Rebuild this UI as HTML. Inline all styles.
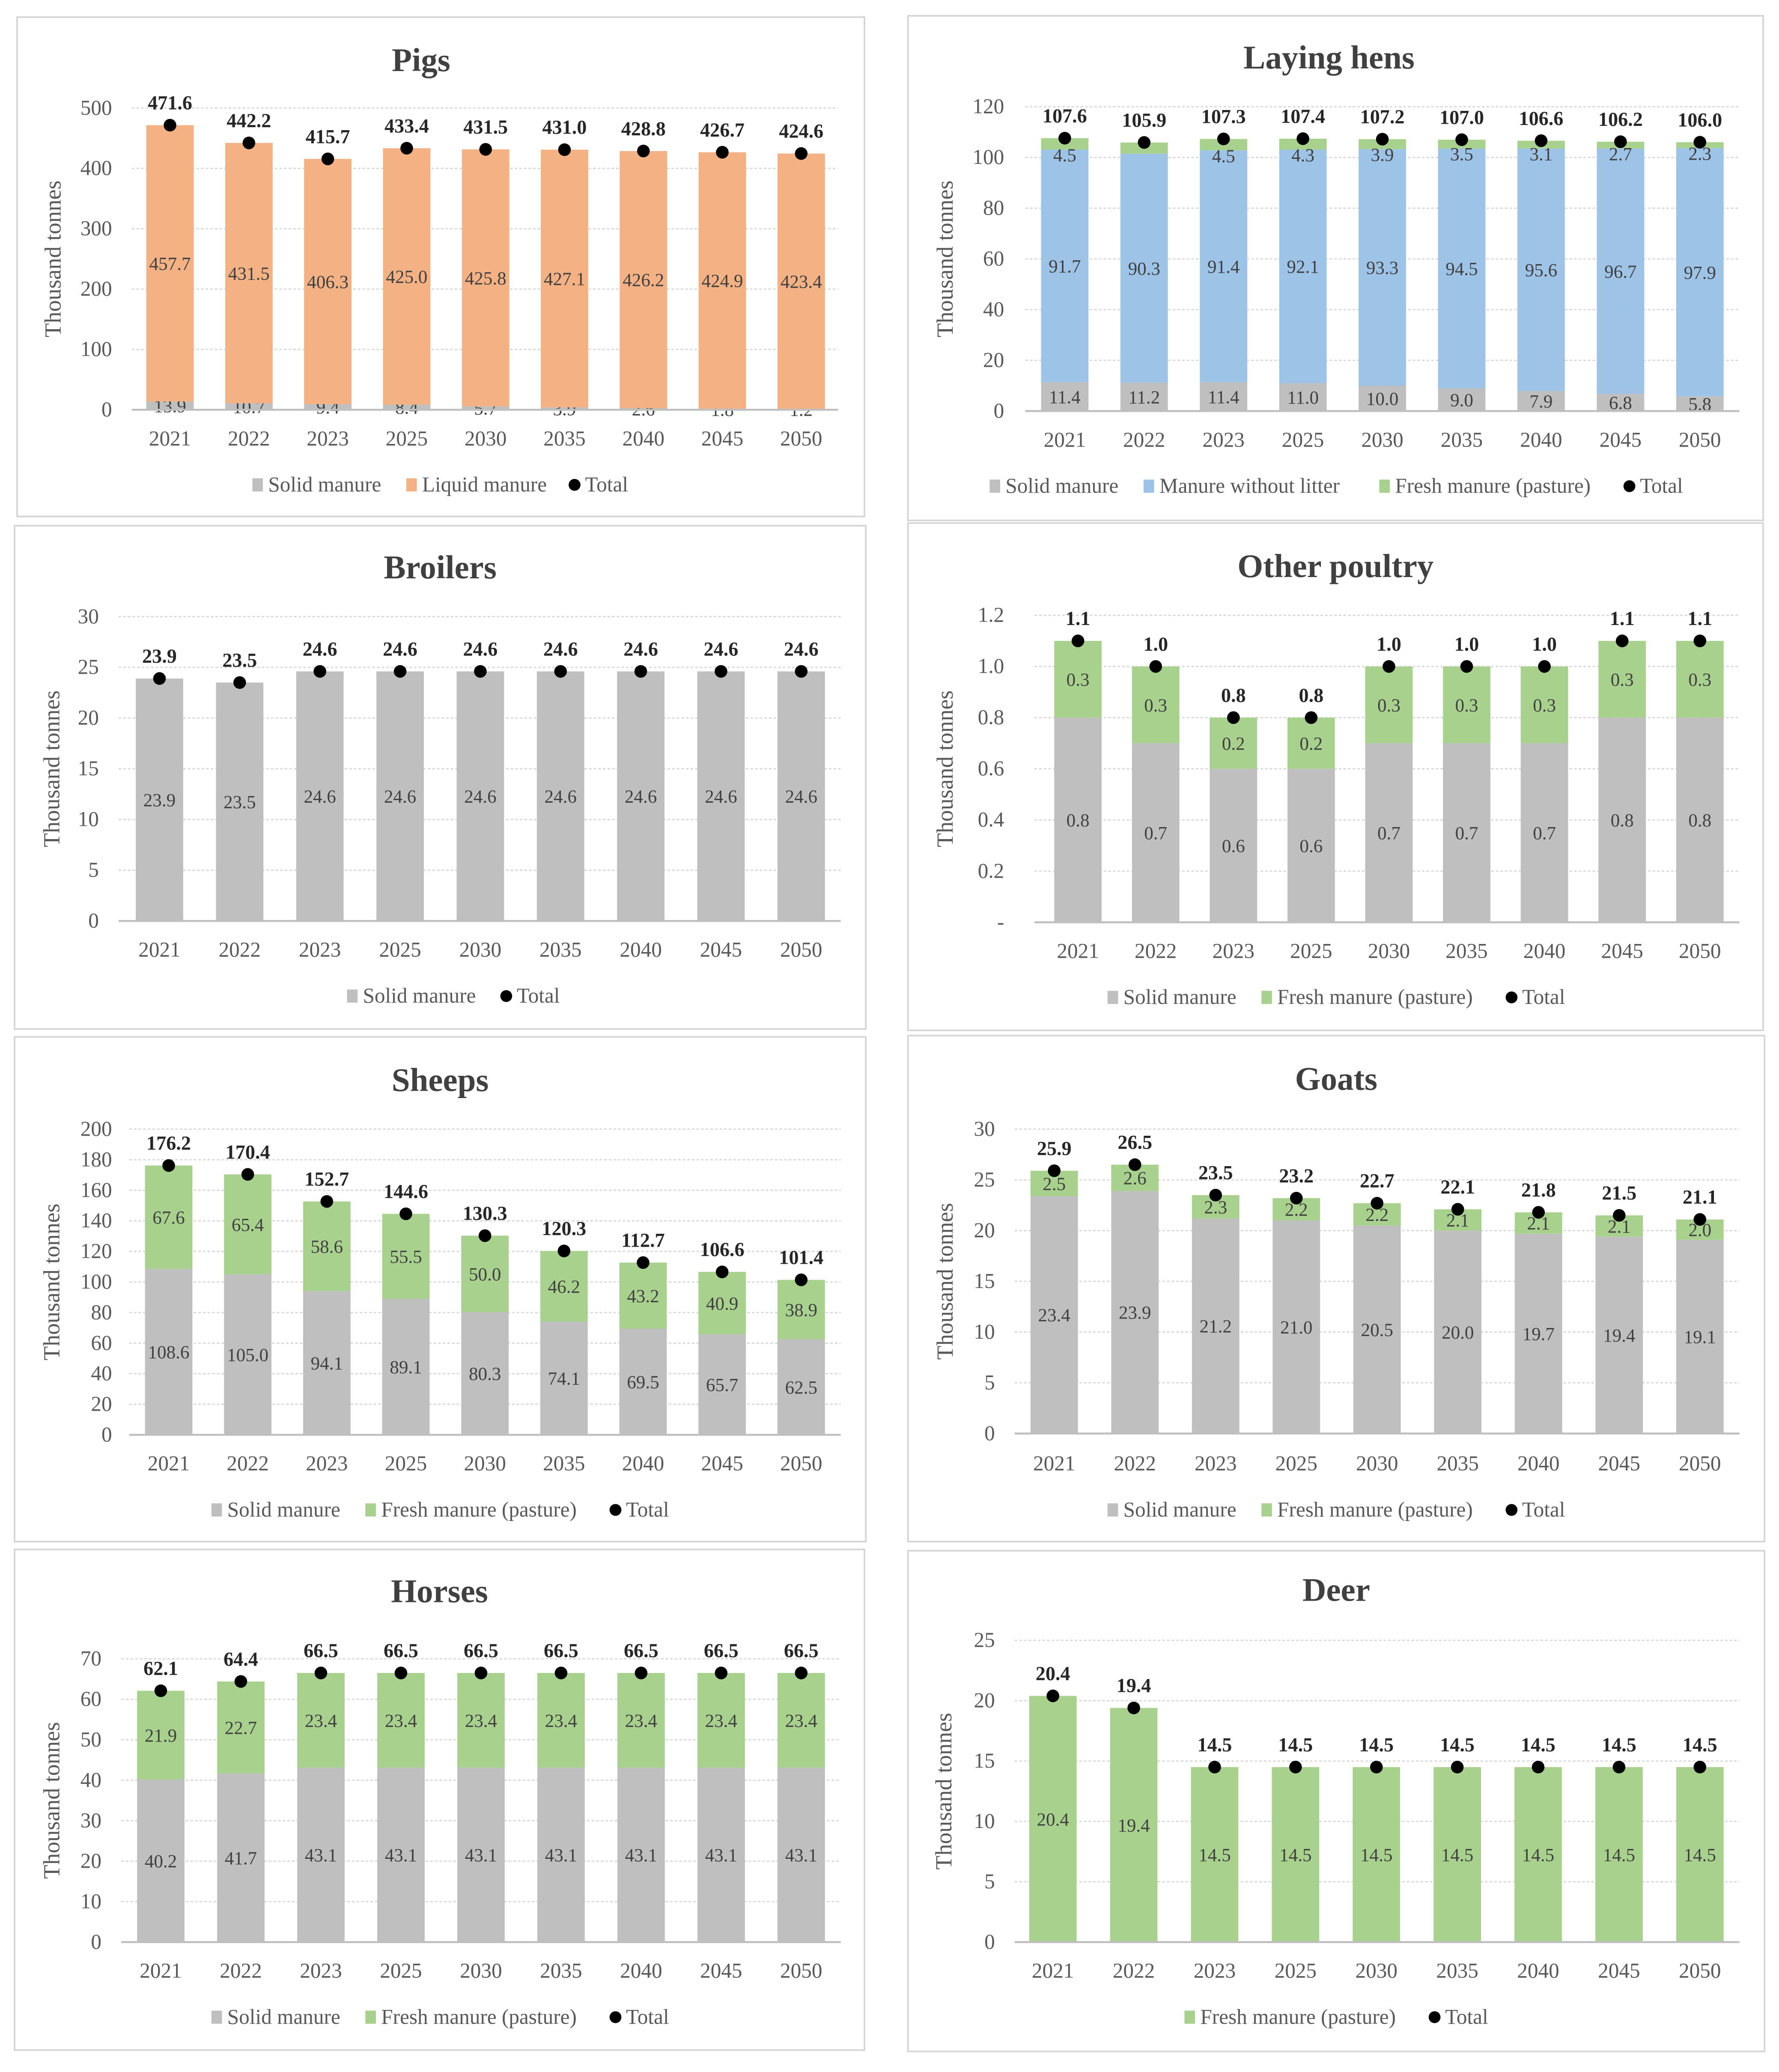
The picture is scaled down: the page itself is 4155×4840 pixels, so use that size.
<!DOCTYPE html>
<html><head><meta charset="utf-8"><style>
html,body{margin:0;padding:0;background:#fff;}
svg{display:block;}
text{font-family:"Liberation Serif",serif;}
</style></head><body>
<svg id="fig" width="4155" height="4840" viewBox="0 0 1350 1572.6" xmlns="http://www.w3.org/2000/svg"></svg>
<script>
const years=["2021","2022","2023","2025","2030","2035","2040","2045","2050"];
const pigsSolid=[13.9,10.7,9.4,8.4,5.7,3.9,2.6,1.8,1.2];
const pigsLiquid=[457.7,431.5,406.3,425.0,425.8,427.1,426.2,424.9,423.4];
const pigsTotal=[471.6,442.2,415.7,433.4,431.5,431.0,428.8,426.7,424.6];
const hensSolid=[11.4,11.2,11.4,11.0,10.0,9.0,7.9,6.8,5.8];
const hensNoLitter=[91.7,90.3,91.4,92.1,93.3,94.5,95.6,96.7,97.9];
const hensFresh=[4.5,4.4,4.5,4.3,3.9,3.5,3.1,2.7,2.3];
const hensTotal=[107.6,105.9,107.3,107.4,107.2,107.0,106.6,106.2,106.0];
const broilersSolid=[23.9,23.5,24.6,24.6,24.6,24.6,24.6,24.6,24.6];
const broilersTotal=[23.9,23.5,24.6,24.6,24.6,24.6,24.6,24.6,24.6];
const otherSolid=[0.8,0.7,0.6,0.6,0.7,0.7,0.7,0.8,0.8];
const otherFresh=[0.3,0.3,0.2,0.2,0.3,0.3,0.3,0.3,0.3];
const otherTotal=[1.1,1.0,0.8,0.8,1.0,1.0,1.0,1.1,1.1];
const sheepSolid=[108.6,105.0,94.1,89.1,80.3,74.1,69.5,65.7,62.5];
const sheepFresh=[67.6,65.4,58.6,55.5,50.0,46.2,43.2,40.9,38.9];
const sheepTotal=[176.2,170.4,152.7,144.6,130.3,120.3,112.7,106.6,101.4];
const goatsSolid=[23.4,23.9,21.2,21.0,20.5,20.0,19.7,19.4,19.1];
const goatsFresh=[2.5,2.6,2.3,2.2,2.2,2.1,2.1,2.1,2.0];
const goatsTotal=[25.9,26.5,23.5,23.2,22.7,22.1,21.8,21.5,21.1];
const horsesSolid=[40.2,41.7,43.1,43.1,43.1,43.1,43.1,43.1,43.1];
const horsesFresh=[21.9,22.7,23.4,23.4,23.4,23.4,23.4,23.4,23.4];
const horsesTotal=[62.1,64.4,66.5,66.5,66.5,66.5,66.5,66.5,66.5];
const deerFresh=[20.4,19.4,14.5,14.5,14.5,14.5,14.5,14.5,14.5];
const deerTotal=[20.4,19.4,14.5,14.5,14.5,14.5,14.5,14.5,14.5];
const pigsTicks=["0","100","200","300","400","500"];
const hensTicks=["0","20","40","60","80","100","120"];
const broilersTicks=["0","5","10","15","20","25","30"];
const otherTicks=["-","0.2","0.4","0.6","0.8","1.0","1.2"];
const sheepTicks=["0","20","40","60","80","100","120","140","160","180","200"];
const goatsTicks=["0","5","10","15","20","25","30"];
const horsesTicks=["0","10","20","30","40","50","60","70"];
const deerTicks=["0","5","10","15","20","25"];

const C={solid:"#bfbfbf",liquid:"#f4b183",blue:"#9dc3e6",green:"#a9d18e"};
const svg=document.getElementById('fig');
const NS="http://www.w3.org/2000/svg";
function el(tag,attrs,parent){const e=document.createElementNS(NS,tag);for(const k in attrs)e.setAttribute(k,attrs[k]);(parent||svg).appendChild(e);return e;}
function txt(s,attrs,parent){const e=el('text',attrs,parent);e.textContent=s;return e;}

const panels=[
 {id:"pigs",title:"Pigs",box:[13,13,643,379],titleY:54,y0:311,yTop:82,ymax:500,ticks:pigsTicks,tickX:85,ytX:46,gx0:100,gx1:636,c0:129,c1:608,catY:338,legY:373,legCx:335,
  series:[{name:"Solid manure",vals:pigsSolid,color:C.solid},{name:"Liquid manure",vals:pigsLiquid,color:C.liquid}],total:pigsTotal},
 {id:"laying-hens",title:"Laying hens",box:[689,12,649,383],titleY:52,y0:312,yTop:81,ymax:120,ticks:hensTicks,tickX:762,ytX:723,gx0:778,gx1:1320,c0:808,c1:1290,catY:339,legY:374,legCx:1015,
  series:[{name:"Solid manure",vals:hensSolid,color:C.solid},{name:"Manure without litter",vals:hensNoLitter,color:C.blue},{name:"Fresh manure (pasture)",vals:hensFresh,color:C.green,skip:[1]}],total:hensTotal},
 {id:"broilers",title:"Broilers",box:[11,399,646,382],titleY:439,y0:699,yTop:468,ymax:30,ticks:broilersTicks,tickX:75,ytX:45,gx0:90,gx1:638,c0:121,c1:608,catY:726,legY:761,legCx:345,
  series:[{name:"Solid manure",vals:broilersSolid,color:C.solid}],total:broilersTotal},
 {id:"other-poultry",title:"Other poultry",box:[689,397,649,385],titleY:438,y0:700,yTop:467,ymax:1.2,ticks:otherTicks,tickX:762,ytX:723,gx0:785,gx1:1320,c0:818,c1:1290,catY:727,legY:762,legCx:1015,
  series:[{name:"Solid manure",vals:otherSolid,color:C.solid},{name:"Fresh manure (pasture)",vals:otherFresh,color:C.green}],total:otherTotal},
 {id:"sheeps",title:"Sheeps",box:[11,787,646,383],titleY:828,y0:1089,yTop:857,ymax:200,ticks:sheepTicks,tickX:85,ytX:45,gx0:98,gx1:638,c0:128,c1:608,catY:1116,legY:1151,legCx:335,
  series:[{name:"Solid manure",vals:sheepSolid,color:C.solid},{name:"Fresh manure (pasture)",vals:sheepFresh,color:C.green}],total:sheepTotal},
 {id:"goats",title:"Goats",box:[689,786,650,384],titleY:827,y0:1088,yTop:857,ymax:30,ticks:goatsTicks,tickX:755,ytX:723,gx0:770,gx1:1320,c0:800,c1:1290,catY:1116,legY:1151,legCx:1015,
  series:[{name:"Solid manure",vals:goatsSolid,color:C.solid},{name:"Fresh manure (pasture)",vals:goatsFresh,color:C.green}],total:goatsTotal},
 {id:"horses",title:"Horses",box:[11,1176,645,380],titleY:1216,y0:1474,yTop:1259,ymax:70,ticks:horsesTicks,tickX:77,ytX:45,gx0:92,gx1:638,c0:122,c1:608,catY:1501,legY:1536,legCx:335,
  series:[{name:"Solid manure",vals:horsesSolid,color:C.solid},{name:"Fresh manure (pasture)",vals:horsesFresh,color:C.green}],total:horsesTotal},
 {id:"deer",title:"Deer",box:[689,1177,650,380],titleY:1215,y0:1474,yTop:1245,ymax:25,ticks:deerTicks,tickX:755,ytX:722,gx0:770,gx1:1320,c0:799,c1:1290,catY:1501,legY:1536,legCx:1015,
  series:[{name:"Fresh manure (pasture)",vals:deerFresh,color:C.green}],total:deerTotal}
];

panels.forEach(p=>{
  const g=el('g',{});
  
  
  const b=el('rect',{x:p.box[0],y:p.box[1],width:p.box[2],height:p.box[3],fill:'#fff',stroke:'#d4d4d4','stroke-width':1.2},g);
  
  
  const t=txt(p.title,{x:p.box[0]+p.box[2]/2+(p.id==='pigs'?-15:(p.id==='laying-hens'?-5:0)),y:p.titleY,'text-anchor':'middle','font-size':25,'font-weight':'bold',fill:'#404040'},g);
  
  
  const yS=v=>p.y0-(v/p.ymax)*(p.y0-p.yTop);
  const n=p.ticks.length;
  for(let i=0;i<n;i++){
    const v=p.ymax*i/(n-1);const y=yS(v);
    if(i>0){const gl=el('line',{x1:p.gx0,x2:p.gx1,y1:y,y2:y,stroke:'#d9d9d9','stroke-width':1,'stroke-dasharray':'2,1.5'},g);
      
      }
    const tl=txt(p.ticks[i],{x:p.tickX,y:y+5,'text-anchor':'end','font-size':16,fill:'#595959'},g);
    
    
  }
  const yt=txt("Thousand tonnes",{x:p.ytX,y:(p.y0+p.yTop)/2,'text-anchor':'middle','font-size':17.5,fill:'#595959',transform:`rotate(-90 ${p.ytX} ${(p.y0+p.yTop)/2})`},g);
  
  
  const step=(p.c1-p.c0)/(years.length-1);
  const xS=i=>p.c0+i*step;
  const bw=36;
  years.forEach((yr,i)=>{
    let acc=0;
    p.series.forEach((s,si)=>{
      const v=s.vals[i];
      const yTopSeg=yS(acc+v),yBot=yS(acc);
      const r=el('rect',{x:xS(i)-bw/2,y:yTopSeg,width:bw,height:Math.max(0,yBot-yTopSeg),fill:s.color},g);
      
      
      if(!(s.skip&&s.skip.includes(i))){
        let ly=(yTopSeg+yBot)/2+5;
        if(si>0&&yBot-yTopSeg<10) ly=yBot+9;
        const lt=txt(v.toFixed(1),{x:xS(i),y:ly,'text-anchor':'middle','font-size':14,fill:'#404040'},g);
        
        
      }
      acc+=v;
    });
    const ty=yS(p.total[i]);
    const d=el('circle',{cx:xS(i),cy:ty,r:4.8,fill:'#000'},g);
    
    
    const tt=txt(p.total[i].toFixed(1),{x:xS(i),y:ty-12,'text-anchor':'middle','font-size':15,'font-weight':'bold',fill:'#262626'},g);
    
    
    const cl=txt(yr,{x:xS(i),y:p.catY,'text-anchor':'middle','font-size':16,fill:'#595959'},g);
    
    
  });
  const ax=el('line',{x1:p.gx0,x2:p.gx1,y1:p.y0,y2:p.y0,stroke:'#bfbfbf','stroke-width':1.5},g);
  
  
  const items=p.series.map(s=>({name:s.name,color:s.color,dot:false})).concat([{name:"Total",dot:true}]);
  const cw=6.9,gap=22;
  const widths=items.map(it=>12+it.name.length*cw);
  const totalW=widths.reduce((a,b)=>a+b,0)+gap*(items.length-1);
  let x=p.legCx-totalW/2;
  items.forEach((it,k)=>{
    const lg=el('g',{},g);
    
    
    if(it.dot) el('circle',{cx:x+4,cy:p.legY-5,r:4.5,fill:'#000'},lg);
    else el('rect',{x:x,y:p.legY-10,width:8,height:10,fill:it.color},lg);
    txt(it.name,{x:x+12,y:p.legY,'font-size':16,fill:'#595959'},lg);
    x+=widths[k]+gap;
  });
});
</script>
</body></html>
